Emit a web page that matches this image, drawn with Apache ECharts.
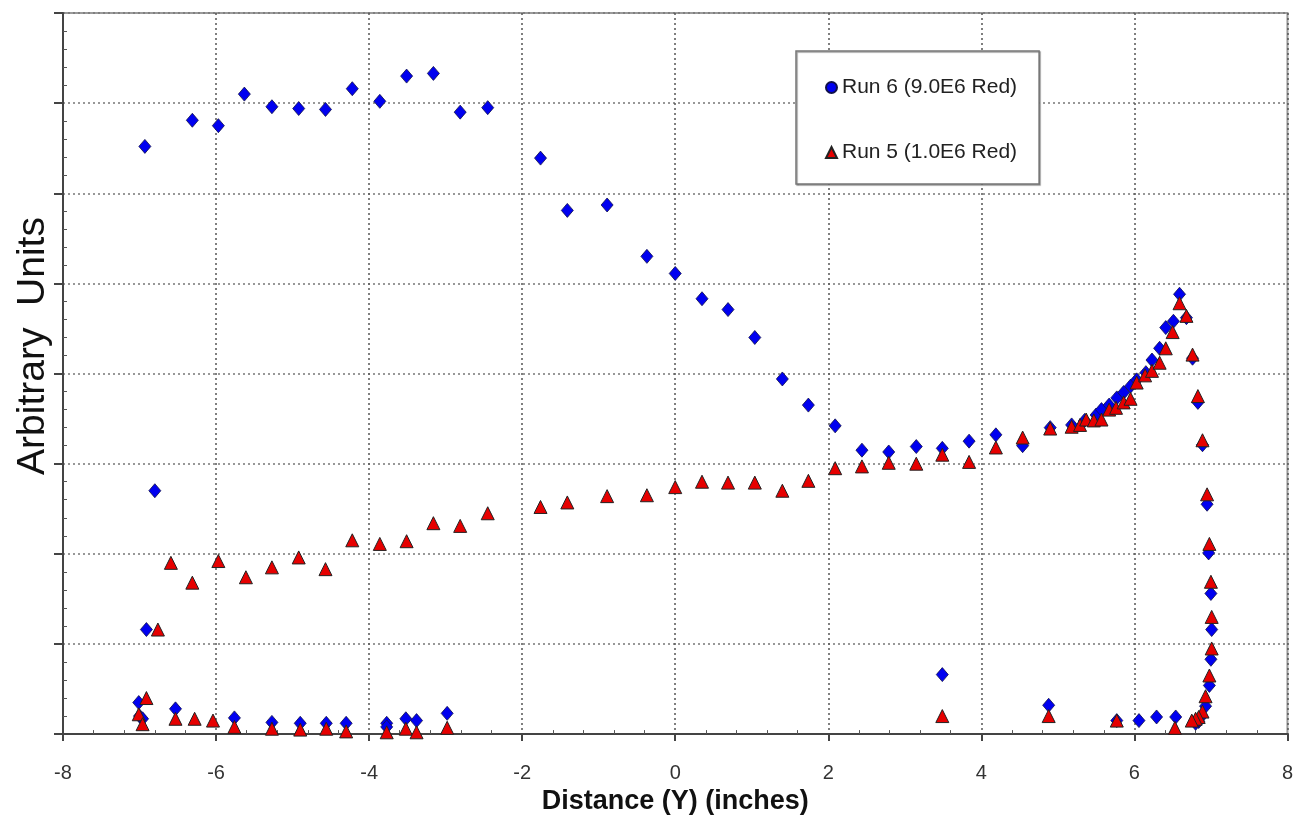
<!DOCTYPE html>
<html>
<head>
<meta charset="utf-8">
<script src="https://cdn.jsdelivr.net/npm/echarts@6/dist/echarts.min.js"></script>
<style>html,body{margin:0;padding:0;background:#fff;}#chart{width:1296px;height:820px;}</style>
</head>
<body>
<div id="chart"></div>
<script>
const xTicks = [-8, -6, -4, -2, 0, 2, 4, 6, 8];
const seriesNames = ['Run 6 (9.0E6 Red)', 'Run 5 (1.0E6 Red)'];
const xTitle = 'Distance (Y) (inches)';
const yTitle = 'Arbitrary  Units';

const run6X = [-7.01,-7.00,-6.96,-6.91,-6.80,-6.93,-6.53,-6.31,-5.97,-5.76,-5.63,-5.27,-5.27,-4.92,-4.90,-4.57,-4.56,-4.30,-4.22,-3.86,-3.77,-3.77,-3.51,-3.52,-3.38,-3.16,-2.98,-2.81,-2.45,-1.76,-1.41,-0.89,-0.37,0.00,0.35,0.69,1.04,1.40,1.74,2.09,2.44,2.79,3.15,3.49,3.49,3.84,4.19,4.54,4.88,4.90,
  5.18,5.35,5.50,5.57,5.67,5.77,5.86,5.95,6.03,6.15,6.23,6.33,6.41,6.51,6.59,6.68,6.76,6.83,6.89,6.95,6.97,7.00,7.01,7.00,6.98,6.93,6.88,6.84,6.80,6.54,6.29,6.06,5.77];
const run6Y = [0.35,0.20,0.17,1.16,2.70,6.52,0.28,6.81,6.75,0.18,7.10,6.96,0.13,6.94,0.12,6.93,0.12,0.12,7.16,7.02,0.12,0.08,7.30,0.17,0.15,7.33,0.23,6.90,6.95,6.39,5.81,5.87,5.30,5.11,4.83,4.71,4.40,3.94,3.65,3.42,3.15,3.13,3.19,3.17,0.66,3.25,3.32,3.20,0.32,3.40,
  3.43,3.48,3.54,3.60,3.65,3.73,3.79,3.86,3.93,4.01,4.15,4.28,4.51,4.58,4.88,4.62,4.17,3.68,3.21,2.55,2.01,1.56,1.16,0.83,0.54,0.31,0.20,0.14,0.12,0.19,0.19,0.15,0.15];

const run5X = [-7.01,-6.96,-6.91,-6.76,-6.59,-6.53,-6.31,-6.28,-6.04,-5.97,-5.76,-5.61,-5.27,-5.27,-4.92,-4.90,-4.57,-4.56,-4.30,-4.22,-3.86,-3.77,-3.51,-3.52,-3.38,-3.16,-2.98,-2.81,-2.45,-1.76,-1.41,-0.89,-0.37,0.00,0.35,0.69,1.04,1.40,1.74,2.09,2.44,2.79,3.15,3.49,3.49,3.84,4.19,4.54,4.88,4.90,
  5.18,5.29,5.37,5.47,5.57,5.67,5.76,5.86,5.95,6.03,6.14,6.23,6.33,6.41,6.50,6.59,6.68,6.76,6.83,6.89,6.95,6.98,7.00,7.01,7.01,6.98,6.93,6.89,6.84,6.80,6.75,6.53,5.77];
const run5Y = [0.22,0.11,0.40,1.16,1.90,0.17,1.68,0.17,0.15,1.92,0.08,1.74,1.85,0.06,1.96,0.05,1.83,0.06,0.03,2.15,2.11,0.02,2.14,0.06,0.02,2.34,0.07,2.31,2.45,2.52,2.57,2.64,2.65,2.74,2.80,2.79,2.79,2.70,2.81,2.95,2.97,3.01,3.00,3.10,0.20,3.02,3.18,3.29,0.20,3.39,
  3.41,3.43,3.49,3.48,3.49,3.60,3.62,3.68,3.72,3.90,3.98,4.03,4.12,4.28,4.46,4.78,4.64,4.21,3.75,3.26,2.66,2.11,1.69,1.30,0.95,0.65,0.42,0.25,0.19,0.17,0.15,0.07,0.15];

const zip = (xs, ys) => xs.map((x, i) => [x, ys[i]]);

const chart = echarts.init(document.getElementById('chart'), null, {renderer: 'canvas'});
const font = 'Liberation Sans, Arial, sans-serif';
chart.setOption({
  animation: false,
  backgroundColor: '#fff',
  grid: {left: 63, right: 6, top: 13, bottom: 82, show: true, borderColor: '#9a9a9a', borderWidth: 2},
  graphic: [{
    type: 'text', x: 33, y: 346, rotation: Math.PI / 2,
    style: {text: yTitle, fontFamily: font, fontSize: 39, fill: '#111', textAlign: 'center', textVerticalAlign: 'middle'}
  }],
  legend: {
    orient: 'vertical', left: 796, top: 51,
    data: [{name: seriesNames[0], icon: 'circle', itemStyle: {color: '#0000f0'}}, {name: seriesNames[1], icon: 'triangle'}],
    itemWidth: 11, itemHeight: 11, itemGap: 44, itemTextGap: 6,
    padding: [26, 22, 21, 29],
    backgroundColor: '#fff', borderColor: '#777', borderWidth: 1.5,
    shadowColor: 'rgba(0,0,0,0.4)', shadowOffsetX: 1, shadowOffsetY: 1, shadowBlur: 1,
    textStyle: {fontFamily: font, fontSize: 21, color: '#222'}
  },
  xAxis: {
    type: 'value', min: -8, max: 8, interval: 2,
    name: xTitle, nameLocation: 'middle', nameGap: 52,
    nameTextStyle: {fontFamily: font, fontSize: 27, fontWeight: 'bold', color: '#111'},
    axisLine: {onZero: false, lineStyle: {color: '#444', width: 2}},
    axisTick: {length: 7, lineStyle: {color: '#444', width: 2}},
    minorTick: {show: true, splitNumber: 5, length: -4, lineStyle: {color: '#555'}},
    axisLabel: {fontFamily: font, fontSize: 20, color: '#333', margin: 29,
      formatter: v => xTicks.includes(v) ? String(v) : ''},
    splitLine: {show: true, lineStyle: {color: '#555', type: [2, 3], width: 1.5}}
  },
  yAxis: {
    type: 'value', min: 0, max: 8, interval: 1,
    axisLine: {show: true, onZero: false, lineStyle: {color: '#444', width: 2}},
    axisTick: {show: true, length: 9, lineStyle: {color: '#444', width: 2}},
    minorTick: {show: true, splitNumber: 5, length: -4, lineStyle: {color: '#555'}},
    axisLabel: {show: false},
    splitLine: {show: true, lineStyle: {color: '#777', type: [2, 3], width: 1.5}}
  },
  series: [
    {
      name: seriesNames[0], type: 'scatter', data: zip(run6X, run6Y),
      symbol: 'diamond', symbolSize: [12, 14],
      itemStyle: {color: '#0000f0', borderColor: '#10104a', borderWidth: 0.8, opacity: 1}
    },
    {
      name: seriesNames[1], type: 'scatter', data: zip(run5X, run5Y),
      symbol: 'triangle', symbolSize: [13, 13],
      itemStyle: {color: '#e60000', borderColor: '#222', borderWidth: 1, opacity: 1}
    }
  ]
});
</script>
</body>
</html>
